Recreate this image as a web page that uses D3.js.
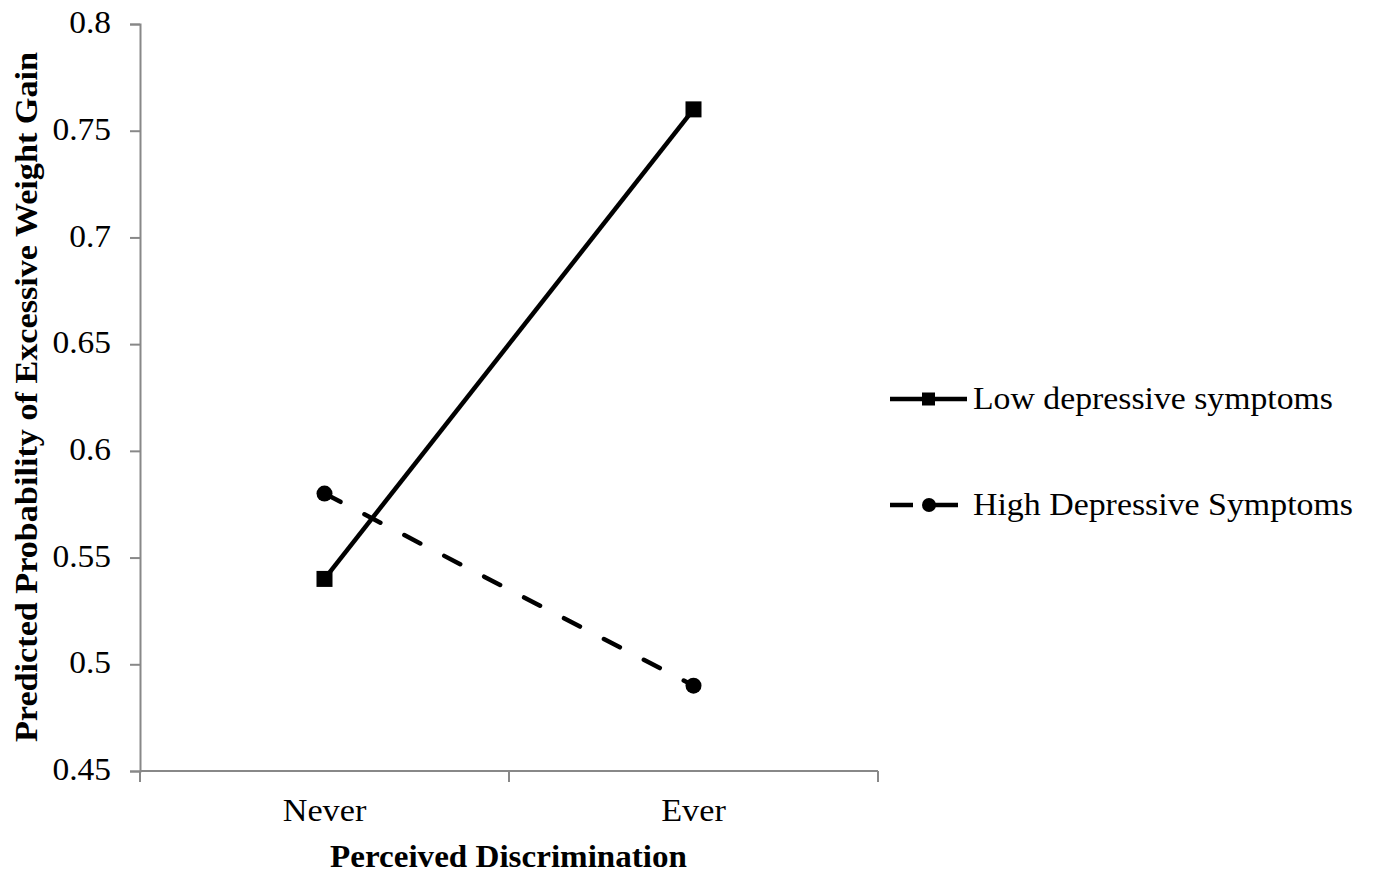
<!DOCTYPE html>
<html lang="en">
<head>
    <meta charset="UTF-8">
    <title>Perceived Discrimination</title>
    <script src="https://cdn.jsdelivr.net/npm/d3@7"></script>
    <style>
        body { margin: 0; background: #fff; }
        text { font-family: "Liberation Serif", "Times New Roman", serif; fill: #000; }
    </style>
</head>
<body>
<script>
    const categories = ['Never', 'Ever']
    const lowValues = [0.54, 0.76]
    const highValues = [0.58, 0.49]
    const yTicks = [0.45, 0.5, 0.55, 0.6, 0.65, 0.7, 0.75, 0.8]
    const seriesNames = ['Low depressive symptoms', 'High Depressive Symptoms']

    const [width, height] = [1375, 880]
    const [plotLeft, plotRight, plotTop, plotBottom] = [140, 878, 24, 771]
    const svg = d3.select('body').append('svg').attr('width', width).attr('height', height)

    const x = d3.scaleBand().domain(categories).range([plotLeft, plotRight])
    const y = d3.scaleLinear().domain([0.45, 0.8]).range([plotBottom, plotTop])
    const cx = c => x(c) + x.bandwidth() / 2

    // y axis
    const yAxis = d3.axisLeft(y).tickValues(yTicks).tickSize(10).tickPadding(19)
        .tickFormat(d => String(+d.toFixed(2)))
    const gy = svg.append('g').attr('transform', `translate(${plotLeft},0)`).call(yAxis)
    gy.select('.domain').attr('stroke', '#888').attr('stroke-width', 2)
    gy.selectAll('.tick line').attr('stroke', '#888').attr('stroke-width', 2)
    gy.selectAll('.tick text').attr('font-size', 31).attr('fill', '#000').attr('dy', '0.28em')
        .style('transform', 'scaleX(1.08)').style('transform-box', 'fill-box').style('transform-origin', 'right')

    // x axis: labels at band centres, ticks at band edges
    const xAxis = d3.axisBottom(x).tickSize(0).tickPadding(27)
    const gx = svg.append('g').attr('transform', `translate(0,${plotBottom})`).call(xAxis)
    gx.select('.domain').remove()
    gx.selectAll('.tick text').attr('font-size', 32).attr('fill', '#000')
        .style('transform', 'scaleX(1.07)').style('transform-box', 'fill-box').style('transform-origin', 'center')
    svg.append('line').attr('x1', plotLeft).attr('x2', plotRight).attr('y1', plotBottom).attr('y2', plotBottom)
        .attr('stroke', '#888').attr('stroke-width', 2)
    const edges = categories.map(c => x(c)).concat([x(categories[categories.length - 1]) + x.bandwidth()])
    svg.selectAll('line.xtick').data(edges).join('line').attr('class', 'xtick')
        .attr('x1', d => d).attr('x2', d => d).attr('y1', plotBottom).attr('y2', plotBottom + 11)
        .attr('stroke', '#888').attr('stroke-width', 2)

    // axis titles
    svg.append('text').attr('x', 330).attr('y', 867)
        .attr('font-size', 32).attr('font-weight', 'bold')
        .attr('textLength', 357).attr('lengthAdjust', 'spacingAndGlyphs')
        .text('Perceived Discrimination')
    svg.append('text').attr('transform', 'translate(37,742) rotate(-90)')
        .attr('font-size', 32).attr('font-weight', 'bold')
        .attr('textLength', 690).attr('lengthAdjust', 'spacingAndGlyphs')
        .text('Predicted Probability  of Excessive Weight Gain')

    const line = d3.line().x((d, i) => cx(categories[i])).y(d => y(d))

    // series lines
    svg.append('path').datum(lowValues).attr('d', line).attr('fill', 'none')
        .attr('stroke', '#000').attr('stroke-width', 4.5)
    svg.append('path').datum(highValues).attr('d', line).attr('fill', 'none')
        .attr('stroke', '#000').attr('stroke-width', 4.5).attr('stroke-linecap', 'round')
        .attr('stroke-dasharray', '18,27')

    // markers
    svg.selectAll('rect.low').data(lowValues).join('rect').attr('class', 'low')
        .attr('x', (d, i) => cx(categories[i]) - 8).attr('y', d => y(d) - 8)
        .attr('width', 16).attr('height', 16).attr('fill', '#000')
    svg.selectAll('circle.high').data(highValues).join('circle').attr('class', 'high')
        .attr('cx', (d, i) => cx(categories[i])).attr('cy', d => y(d)).attr('r', 8).attr('fill', '#000')

    // legend
    const legendWidths = [360, 380]
    const legend = svg.append('g').attr('transform', 'translate(890,399)')
    seriesNames.forEach((name, i) => {
        const g = legend.append('g').attr('transform', `translate(0,${i * 106})`)
        g.append('line').attr('x1', 0).attr('x2', i === 1 ? 69 : 77).attr('y1', 0).attr('y2', 0)
            .attr('stroke', '#000').attr('stroke-width', 4.5)
            .attr('stroke-dasharray', i === 1 ? '23,22' : null)
        if (i === 0) {
            g.append('rect').attr('x', 32).attr('y', -6.5).attr('width', 13).attr('height', 13).attr('fill', '#000')
        } else {
            g.append('circle').attr('cx', 39).attr('cy', 0).attr('r', 7).attr('fill', '#000')
        }
        g.append('text').attr('x', 83).attr('y', 0).attr('dy', '0.32em').attr('font-size', 32)
            .attr('textLength', legendWidths[i]).attr('lengthAdjust', 'spacingAndGlyphs').text(name)
    })
</script>
</body>
</html>
